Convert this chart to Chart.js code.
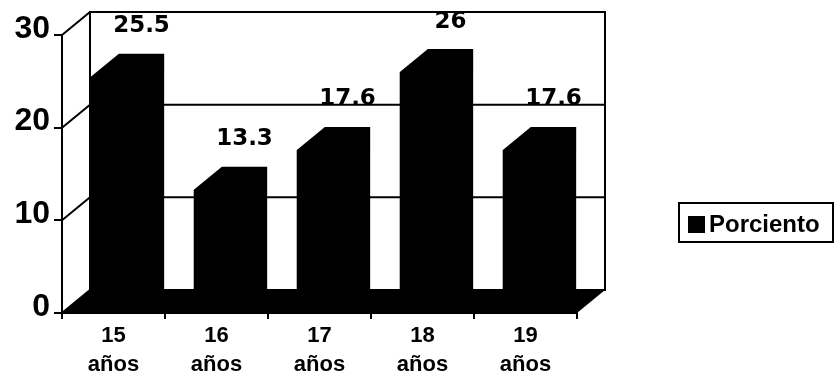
<!DOCTYPE html>
<html>
<head>
<meta charset="utf-8">
<title>Porciento por edad</title>
<script src="https://cdn.jsdelivr.net/npm/chart.js@4"></script>
<style>
  html, body { margin: 0; padding: 0; background: #fff; }
</style>
</head>
<body>
<canvas id="chart" width="835" height="375"></canvas>
<script>
// datos
const categorias = [['15', 'años'], ['16', 'años'], ['17', 'años'], ['18', 'años'], ['19', 'años']];
const porciento = [25.5, 13.3, 17.6, 26, 17.6];
const ticksY = [0, 10, 20, 30];
const nombreSerie = 'Porciento';

// desplazamiento del efecto 3D (profundidad)
const DX = 28;
const DY = 23;

Chart.defaults.font.family = '"Liberation Sans", Arial, sans-serif';
Chart.defaults.color = '#000';

const caja3d = {
    id: 'caja3d',
    beforeDatasetsDraw(chart) {
        const { ctx, chartArea: a, scales: { y } } = chart;
        ctx.save();
        ctx.strokeStyle = '#000';
        ctx.lineWidth = 2;

        // pared del fondo
        ctx.strokeRect(a.left + DX, a.top - DY, a.right - a.left, a.bottom - a.top);

        // lineas de la cuadricula (pared lateral + fondo)
        ticksY.forEach(v => {
            const py = y.getPixelForValue(v);
            ctx.beginPath();
            ctx.moveTo(a.left, py);
            ctx.lineTo(a.left + DX, py - DY);
            ctx.lineTo(a.right + DX, py - DY);
            ctx.stroke();
        });

        // piso negro
        const b = y.getPixelForValue(0);
        ctx.fillStyle = '#000';
        ctx.beginPath();
        ctx.moveTo(a.left, b);
        ctx.lineTo(a.left + DX, b - DY);
        ctx.lineTo(a.right + DX, b - DY);
        ctx.lineTo(a.right, b);
        ctx.closePath();
        ctx.fill();
        ctx.restore();
    },
    afterDatasetsDraw(chart) {
        const { ctx } = chart;
        const meta = chart.getDatasetMeta(0);
        ctx.save();
        ctx.fillStyle = '#000';
        meta.data.forEach((bar, i) => {
            const { x, y, base, width } = bar.getProps(['x', 'y', 'base', 'width'], true);
            const l = x - width / 2;
            const r = x + width / 2;
            // silueta completa: frente, tapa y lateral
            ctx.beginPath();
            ctx.moveTo(l, base);
            ctx.lineTo(l, y);
            ctx.lineTo(l + DX, y - DY);
            ctx.lineTo(r + DX, y - DY);
            ctx.lineTo(r + DX, base - DY);
            ctx.lineTo(r, base);
            ctx.closePath();
            ctx.fill();

            // etiqueta de valor
            ctx.font = 'bold 23px "DejaVu Sans", sans-serif';
            ctx.textAlign = 'center';
            ctx.textBaseline = 'bottom';
            ctx.fillText(String(porciento[i]), x + DX, y - DY - 16);
        });
        ctx.restore();
    },
    afterDraw(chart) {
        // leyenda con recuadro
        const { ctx } = chart;
        const label = chart.data.datasets[0].label;
        ctx.save();
        ctx.strokeStyle = '#000';
        ctx.lineWidth = 2;
        ctx.strokeRect(679, 203, 154, 39);
        ctx.fillStyle = '#000';
        ctx.fillRect(688, 216, 17, 17);
        ctx.font = 'bold 24px "Liberation Sans", Arial, sans-serif';
        ctx.textAlign = 'left';
        ctx.textBaseline = 'middle';
        ctx.fillText(label, 709, 225);
        ctx.restore();
    }
};

const ctx = document.getElementById('chart').getContext('2d');
new Chart(ctx, {
    type: 'bar',
    data: {
        labels: categorias,
        datasets: [{
            label: nombreSerie,
            data: porciento,
            backgroundColor: '#000',
            borderWidth: 0,
            barPercentage: 0.44,
            categoryPercentage: 1
        }]
    },
    options: {
        responsive: false,
        animation: false,
        devicePixelRatio: 1,
        layout: {
            padding: { top: 35, right: 258, left: 0, bottom: 0 }
        },
        plugins: {
            legend: { display: false },
            tooltip: { enabled: false }
        },
        scales: {
            x: {
                afterFit(scale) { scale.height = 62; },
                grid: {
                    offset: true,
                    drawOnChartArea: false,
                    tickLength: 6,
                    color: '#000',
                    lineWidth: 2
                },
                border: { display: true, color: '#000', width: 2 },
                ticks: {
                    autoSkip: false,
                    maxRotation: 0,
                    padding: 2,
                    color: '#000',
                    font: { size: 22, weight: 'bold', lineHeight: 1.32 }
                }
            },
            y: {
                min: 0,
                max: 30,
                afterFit(scale) { scale.width = 62; },
                grid: {
                    drawOnChartArea: false,
                    tickLength: 8,
                    color: '#000',
                    lineWidth: 2
                },
                border: { display: true, color: '#000', width: 2 },
                ticks: {
                    stepSize: 10,
                    padding: 4,
                    labelOffset: -6,
                    color: '#000',
                    font: { size: 32, weight: 'bold' }
                }
            }
        }
    },
    plugins: [caja3d]
});
</script>
</body>
</html>
